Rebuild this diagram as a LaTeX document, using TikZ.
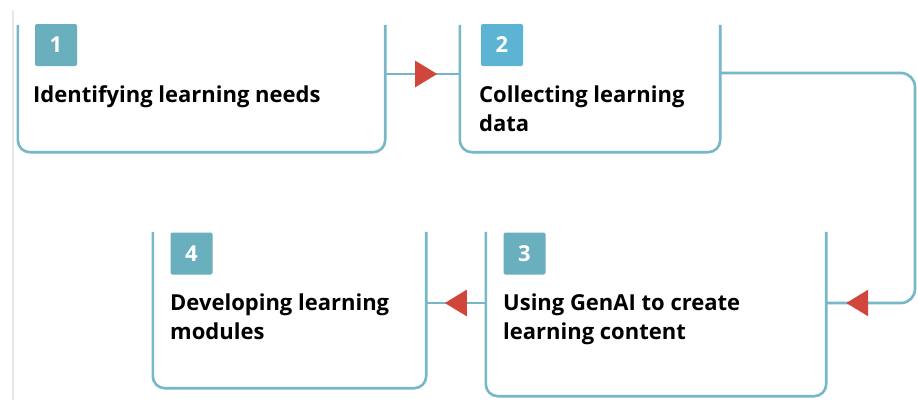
\documentclass[tikz,border=0pt]{standalone}
\usepackage{fontspec}
\setmainfont{Open Sans}
\usetikzlibrary{arrows.meta,decorations.markings}
\definecolor{teal}{HTML}{76B8C8}
\definecolor{badge}{HTML}{6AAFBE}
\definecolor{badgeb}{HTML}{5DB3D3}
\definecolor{arr}{HTML}{D0463A}
\definecolor{edge}{HTML}{E6E6EB}
\tikzset{
  frame/.style={draw=none, inner sep=0pt, rectangle},
  ubox/.style={draw=teal, line width=2.6pt, rounded corners=12pt},
  badgebox/.style={fill=badge, rounded corners=2pt, minimum width=42pt, minimum height=42pt, inner sep=0pt,
     text=white, font=\fontsize{22}{22}\selectfont\bfseries},
  label/.style={anchor=base west, align=left, inner sep=0pt, font=\fontsize{22}{29}\selectfont\bfseries, text=black},
  conn/.style={draw=teal, line width=2.6pt, rounded corners=14pt},
  tri/.style={postaction={decorate}, decoration={markings, mark=at position #1 with {\arrow[arr]{Triangle[length=22pt,width=26pt]}}}}
}
\begin{document}
\begin{tikzpicture}[x=1pt,y=-1pt]
\useasboundingbox (0,0) rectangle (918,400);
\fill[white] (0,0) rectangle (918,400);
\draw[edge, line width=2.5pt] (13,10) -- (13,400);
% frames
\node[frame, minimum width=367pt, minimum height=127pt] (b1) at (201.5,88.5) {};
\node[frame, minimum width=260pt, minimum height=127pt] (b2) at (590,88.5) {};
\node[frame, minimum width=340pt, minimum height=164pt] (b3) at (656,314) {};
\node[frame, minimum width=273pt, minimum height=156pt] (b4) at (289.5,310) {};
\foreach \b in {b1,b2,b3,b4}{
  \draw[ubox] (\b.north west) -- (\b.south west) -- (\b.south east) -- (\b.north east);
}
% badges
\node[badgebox] (n1) at (56,45) {1};
\node[badgebox, fill=badgeb] (n2) at (502,45) {2};
\node[badgebox] (n3) at (524.5,253.5) {3};
\node[badgebox] (n4) at (191.5,253.5) {4};
% labels
\node[label] (t1) at (33,102) {Identifying learning needs};
\node[label] (t2) at (479,131) {Collecting learning\\data};
\node[label] (t3) at (503,339) {Using GenAI to create\\learning content};
\node[label] (t4) at (170,339) {Developing learning\\modules};
% connectors
\coordinate (c1) at (b1.east |- 0,74);
\coordinate (c2) at (b2.west |- 0,74);
\draw[conn, tri=52pt] (c1) -- (c2);
\coordinate (d1) at (b2.east |- 0,73);
\coordinate (d2) at (915,73);
\coordinate (d3) at (915,303);
\coordinate (d4) at (b3.east |- 0,303);
\draw[conn, tri=-20pt] (d1) -- (d2) -- (d3) -- (d4);
\coordinate (e1) at (b3.west |- 0,303);
\coordinate (e2) at (b4.east |- 0,303);
\draw[conn, tri=41pt] (e1) -- (e2);
\end{tikzpicture}
\end{document}
